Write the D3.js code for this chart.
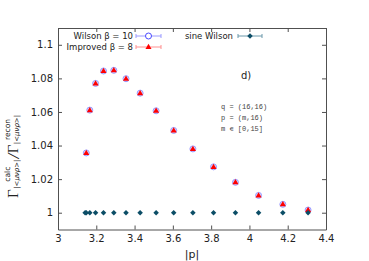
<!DOCTYPE html>
<html>
<head>
<meta charset="utf-8">
<script src="https://cdn.jsdelivr.net/npm/d3@7"></script>
<style>
body { margin: 0; background: #fff; }
svg { display: block; }
text { font-family: "DejaVu Sans", sans-serif; }
</style>
</head>
<body>
<div id="chart"></div>
<script>
// |p| for m = 0..15
var pVals = [3.1416, 3.1477, 3.1661, 3.1963, 3.2377, 3.2915, 3.3553, 3.4291,
             3.5125, 3.6044, 3.7047, 3.8125, 3.9270, 4.0478, 4.1745, 4.3064]
// ratios, m = 1..15 (m = 0 sits under the sine Wilson point)
var wilson = [1.0356, 1.0611, 1.0770, 1.0844, 1.0848, 1.0798, 1.0712, 1.0607,
              1.0490, 1.0380, 1.0273, 1.0181, 1.0103, 1.0050, 1.0016]
var improved = [1.0356, 1.0611, 1.0770, 1.0844, 1.0848, 1.0798, 1.0712, 1.0607,
                1.0490, 1.0380, 1.0273, 1.0181, 1.0103, 1.0050, 1.0016]
var sineWilson = [1, 1, 1, 1, 1, 1, 1, 1, 1, 1, 1, 1, 1, 1, 1, 1]
var xTicks = [3, 3.2, 3.4, 3.6, 3.8, 4, 4.2, 4.4]
var yTicks = [1, 1.02, 1.04, 1.06, 1.08, 1.1]
var notes = ["q = (16,16)", "p = (m,16)", "m \u220a [0,15]"]

var W = 369, H = 261
// plot box (window.top is reserved, so use other names)
var pL = 58, pR = 326, pT = 28, pB = 229.5

var svg = d3.select('#chart').append('svg')
	.attr('width', W)
	.attr('height', H)

var x = d3.scaleLinear().domain([3, 4.4]).range([pL, pR])
var y = d3.scaleLinear().domain([0.99, 1.11]).range([pB, pT])

var fmt = function(d){ return String(+d.toFixed(2)) }
var axisCol = '#505050'

function styleAxis(g){
	g.select('.domain').attr('stroke', axisCol)
	g.selectAll('.tick line').attr('stroke', axisCol)
	g.selectAll('.tick text').attr('fill', '#222').style('font-size', '10px')
		.style('font-family', '"DejaVu Sans", sans-serif')
}

svg.append('g').attr('transform', 'translate(0,' + pB + ')')
	.call(d3.axisBottom(x).tickValues(xTicks).tickFormat(fmt).tickSizeInner(-4).tickSizeOuter(0).tickPadding(5))
	.call(styleAxis)
svg.append('g').attr('transform', 'translate(0,' + pT + ')')
	.call(d3.axisTop(x).tickValues(xTicks).tickFormat('').tickSizeInner(-4).tickSizeOuter(0))
	.call(styleAxis)
svg.append('g').attr('transform', 'translate(' + pL + ',0)')
	.call(d3.axisLeft(y).tickValues(yTicks).tickFormat(fmt).tickSizeInner(-4).tickSizeOuter(0).tickPadding(5))
	.call(styleAxis)
svg.append('g').attr('transform', 'translate(' + pR + ',0)')
	.call(d3.axisRight(y).tickValues(yTicks).tickFormat('').tickSizeInner(-4).tickSizeOuter(0))
	.call(styleAxis)

// colours
var cW = '#4a4aff', cWl = '#9a9aff'
var cI = '#ff0000', cIl = '#ff9090'
var cS = '#0b4d66', cSl = '#6a98aa'

var tri = d3.symbol().type(d3.symbolTriangle).size(16)
// square turned 45 degrees -> gnuplot-like diamond
var dia = d3.symbol().type(d3.symbolSquare).size(15)

// Wilson
svg.append('g').selectAll('circle').data(wilson).join('circle')
	.attr('cx', function(d, i){ return x(pVals[i + 1]) })
	.attr('cy', function(d){ return y(d) })
	.attr('r', 3)
	.attr('fill', '#dcdcff')
	.attr('stroke', cWl)
	.attr('stroke-width', 1)

// Improved
svg.append('g').selectAll('path').data(improved).join('path')
	.attr('d', tri)
	.attr('transform', function(d, i){ return 'translate(' + x(pVals[i + 1]) + ',' + (y(d) + 0.3) + ')' })
	.attr('fill', cI)

// sine Wilson
svg.append('g').selectAll('path').data(sineWilson).join('path')
	.attr('d', dia)
	.attr('transform', function(d, i){ return 'translate(' + x(pVals[i]) + ',' + y(d) + ') rotate(45)' })
	.attr('fill', cS)

// legend
function keyEntry(label, lx, tx, ly, line, draw){
	svg.append('text').attr('x', tx).attr('y', ly).attr('dy', '0.35em')
		.attr('text-anchor', 'end').style('font-size', '8.5px').attr('fill', '#222')
		.text(label)
	var g = svg.append('g')
	g.append('line').attr('x1', lx[0]).attr('x2', lx[1]).attr('y1', ly).attr('y2', ly)
		.attr('stroke', line).attr('stroke-width', 1)
	lx.forEach(function(v){
		g.append('line').attr('x1', v).attr('x2', v).attr('y1', ly - 2).attr('y2', ly + 2)
			.attr('stroke', line).attr('stroke-width', 1)
	})
	draw(g, (lx[0] + lx[1]) / 2, ly)
}

keyEntry('Wilson \u03b2 = 10', [136, 161], 133, 36, cWl, function(g, cx, cy){
	g.append('circle').attr('cx', cx).attr('cy', cy).attr('r', 3).attr('fill', '#fff')
		.attr('stroke', cW).attr('stroke-width', 1)
})
keyEntry('Improved \u03b2 = 8', [136, 161], 133, 47, cIl, function(g, cx, cy){
	g.append('path').attr('d', tri).attr('transform', 'translate(' + cx + ',' + (cy + 0.3) + ')').attr('fill', cI)
})
keyEntry('sine Wilson', [238, 262], 233, 36, cSl, function(g, cx, cy){
	g.append('path').attr('d', dia).attr('transform', 'translate(' + cx + ',' + cy + ') rotate(45)').attr('fill', cS)
})

// annotations
svg.append('text').attr('x', 241).attr('y', 75).attr('dy', '0.35em')
	.style('font-size', '10px').attr('fill', '#222').text('d)')

svg.append('g').selectAll('text').data(notes).join('text')
	.attr('x', 221)
	.attr('y', function(d, i){ return 107 + i * 11 })
	.attr('dy', '0.35em')
	.style('font-family', '"Liberation Mono", monospace')
	.style('font-size', '7px')
	.attr('fill', '#444')
	.text(function(d){ return d })

// x label
svg.append('text').attr('x', (pL + pR) / 2).attr('y', 254).attr('dy', '0.35em')
	.attr('text-anchor', 'middle').style('font-size', '11px').attr('fill', '#222').text('|p|')

// y label: Gamma^calc_|<mu nu rho>| / Gamma^recon_|<mu nu rho>|
var yl = svg.append('g').attr('transform', 'translate(18,198) rotate(-90)')
var pos = 0
function gamma(){
	var t = yl.append('text').attr('x', pos).attr('y', 0)
		.style('font-family', '"Liberation Serif", serif').style('font-size', '15px')
		.attr('fill', '#222').text('\u0393')
	pos += t.node().getComputedTextLength() + 0.5
}
function supsub(sup, sub){
	var a = yl.append('text').attr('x', pos).attr('y', -8)
		.style('font-size', '7.5px').attr('fill', '#222').text(sup)
	var b = yl.append('text').attr('x', pos).attr('y', 1)
		.style('font-size', '7px').style('font-style', 'italic').attr('fill', '#222').text(sub)
	var wa = a.node().getComputedTextLength(), wb = b.node().getComputedTextLength()
	// center the shorter one over the longer one
	if (wa < wb) a.attr('x', pos + (wb - wa) / 2)
	pos += Math.max(wa, wb) + 1
}
gamma()
supsub('calc', '|<\u03bc\u03bd\u03c1>|')
var sl = yl.append('text').attr('x', pos).attr('y', 1)
	.style('font-family', '"Liberation Serif", serif').style('font-size', '17px')
	.style('font-style', 'italic').attr('fill', '#222').text('/')
pos += sl.node().getComputedTextLength() + 0.5
gamma()
supsub('recon', '|<\u03bc\u03bd\u03c1>|')
</script>
</body>
</html>
